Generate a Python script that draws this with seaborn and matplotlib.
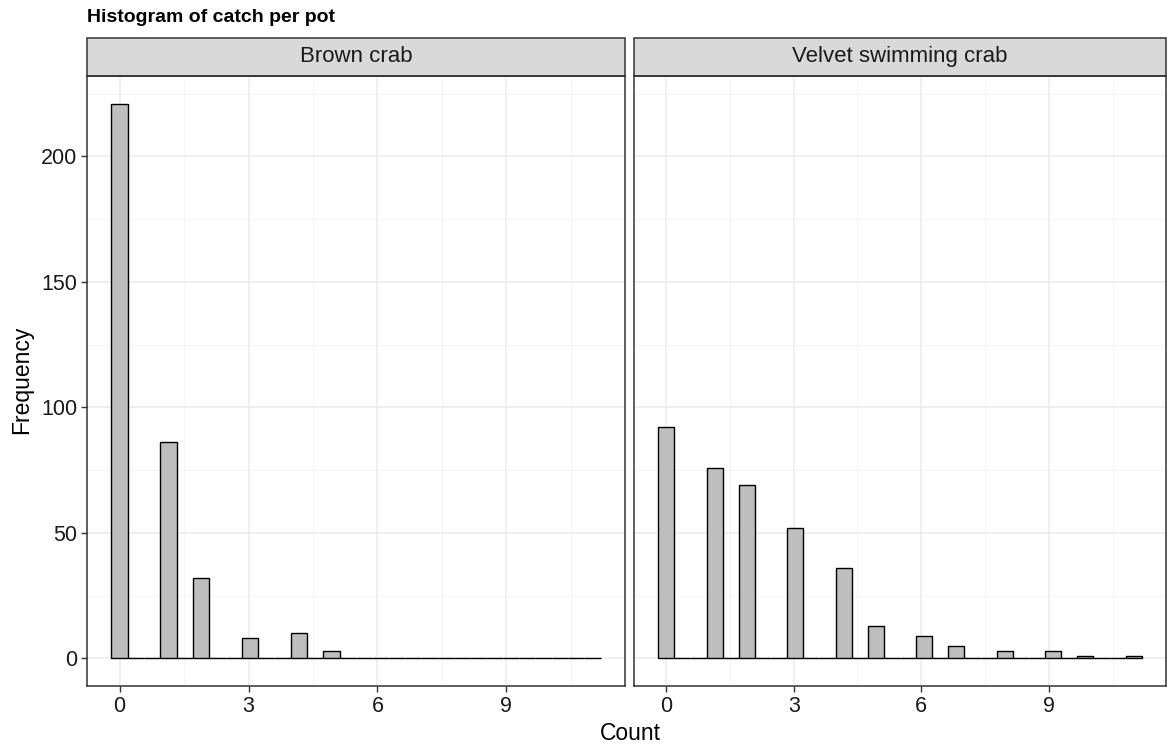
import numpy as np
import pandas as pd
import matplotlib
matplotlib.use("Agg")
import matplotlib.pyplot as plt
import seaborn as sns
from matplotlib.patches import Rectangle

species = ["Brown crab", "Velvet swimming crab"]
brown_values = [0, 1, 2, 3, 4, 5]
brown_counts = [221, 86, 32, 8, 10, 3]
velvet_values = [0, 1, 2, 3, 4, 5, 6, 7, 8, 9, 10, 11]
velvet_counts = [92, 76, 69, 52, 36, 13, 9, 5, 3, 3, 1, 1]
x_ticks = [0, 3, 6, 9]
y_ticks = [0, 50, 100, 150, 200]

df = pd.concat([
    pd.DataFrame({"species": species[0], "Count": np.repeat(brown_values, brown_counts)}),
    pd.DataFrame({"species": species[1], "Count": np.repeat(velvet_values, velvet_counts)}),
])

sns.set_theme(style="white")
plt.rcParams['font.family'] = ['Liberation Sans', 'DejaVu Sans']

# ggplot-style 30 bins over 0..11
nb = 30
w = 11 / (nb - 1)
edges = -w / 2 + w * np.arange(nb + 1)

g = sns.FacetGrid(df, col="species", col_order=species, sharex=True, sharey=True,
                  height=7.44, aspect=1167 / 744 / 2)
g.map_dataframe(sns.histplot, x="Count", bins=edges, color="#bebebe",
                edgecolor="black", linewidth=1.0, alpha=1)
fig = g.figure
fig.set_size_inches(11.67, 7.44)

W, H = 1167, 744
pos = [(87, 625), (634, 1166)]
top, bot = 76, 686
strip_top = 38
xlo = edges[0] - 0.05 * (edges[-1] - edges[0])
xhi = edges[-1] + 0.05 * (edges[-1] - edges[0])
for ax, (l, r), name in zip(g.axes.flat, pos, species):
    ax.set_position([l / W, 1 - bot / H, (r - l) / W, (bot - top) / H])
    ax.set_xlim(xlo, xhi)
    ax.set_ylim(-221 * 0.05, 221 * 1.05)
    ax.set_xticks(x_ticks)
    ax.set_xticks([1.5, 4.5, 7.5, 10.5], minor=True)
    ax.set_yticks(y_ticks)
    ax.set_yticks([25, 75, 125, 175, 225], minor=True)
    ax.grid(True, which="major", color="#ebebeb", linewidth=1.1)
    ax.grid(True, which="minor", color="#f2f2f2", linewidth=0.6)
    ax.set_axisbelow(True)
    for s in ax.spines.values():
        s.set_color("#333333")
        s.set_linewidth(1.1)
        s.set_visible(True)
    ax.tick_params(axis="both", which="major", length=4, width=1, color="#333333",
                   labelsize=15.5, labelcolor="#1a1a1a", bottom=True, left=True, pad=3)
    ax.tick_params(axis="both", which="minor", length=0)
    ax.set_title("")
    ax.set_xlabel("")
    ax.set_ylabel("")
    sh = (top - strip_top) / (bot - top)
    ax.add_patch(Rectangle((0, 1), 1, sh, transform=ax.transAxes, facecolor="#d9d9d9",
                           edgecolor="#333333", linewidth=1.1, clip_on=False))
    ax.text(0.5, 1 + sh / 2, name, transform=ax.transAxes, ha="center", va="center",
            fontsize=16, color="#1a1a1a")

g.axes.flat[1].tick_params(axis="y", labelleft=False, left=False)
fig.text(87 / W, 1 - 18 / H, "Histogram of catch per pot", fontsize=14, fontweight="bold",
         ha="left", va="center", color="black")
fig.text(630 / W, 1 - 733 / H, "Count", fontsize=16.5, ha="center", va="center", color="black")
fig.text(22 / W, 1 - 380 / H, "Frequency", fontsize=16.5, rotation=90, ha="center",
         va="center", color="black")

fig.savefig("out.png", dpi=100)
